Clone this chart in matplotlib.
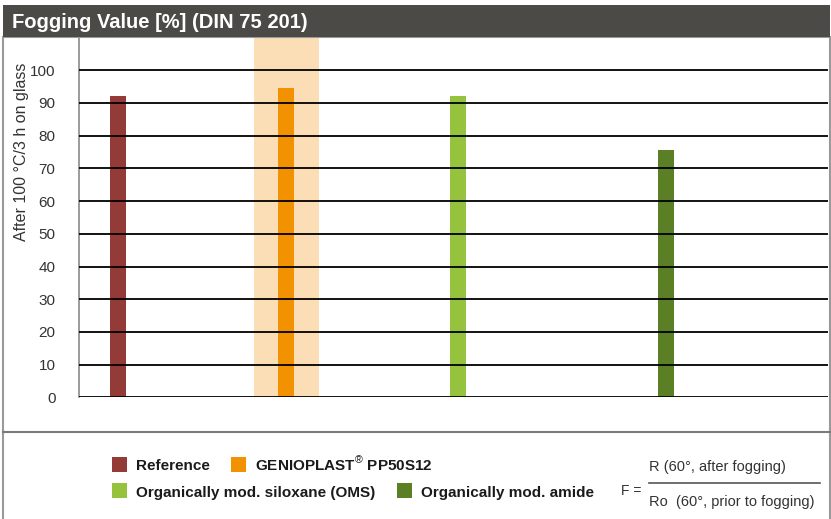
import numpy as np
import matplotlib
matplotlib.use('Agg')
import matplotlib.pyplot as plt
from matplotlib.patches import Rectangle
from matplotlib.lines import Line2D

plt.rcParams['font.family'] = ['Liberation Sans', 'DejaVu Sans']
plt.rcParams['mathtext.fontset'] = 'custom'
plt.rcParams['mathtext.rm'] = 'Liberation Sans'

# data
categories = ['Reference', 'GENIOPLAST$^{®}$ PP50S12',
              'Organically mod. siloxane (OMS)', 'Organically mod. amide']
values = [92, 94.7, 92, 75.6]
colors = ['#923b37', '#f39200', '#95c33d', '#5b7f25']
yticks = [0, 10, 20, 30, 40, 50, 60, 70, 80, 90, 100]

title = 'Fogging Value [%] (DIN 75 201)'
ylabel = 'After 100 °C/3 h on glass'

# layout (pixels)
W, H = 831, 519
xpos = [39, 207, 379, 587]     # bar centres inside the axes
barw = 16
band = (175, 240)              # highlight behind GENIOPLAST
px_per_unit = 3.27
y0 = 397.3                     # pixel row of the 0 line
ytop = 37

fig = plt.figure(figsize=(W/100, H/100), dpi=100)
fig.patch.set_facecolor('white')

ax = fig.add_axes([79/W, (H-y0)/H, 749/W, (y0-ytop)/H])
ax.set_xlim(0, 749)
ax.set_ylim(0, (y0-ytop)/px_per_unit)

ax.axvspan(band[0], band[1], color='#fbdeb5', lw=0, zorder=0)
ax.bar(xpos, values, width=barw, color=colors, zorder=1)

ax.set_yticks(yticks)
ax.set_xticks([])
ax.grid(axis='y', color='black', lw=1.3)
ax.set_axisbelow(False)
ax.tick_params(axis='y', length=0, pad=17, labelsize=11, labelcolor='#333333')
for s in ['top', 'right', 'bottom']:
    ax.spines[s].set_visible(False)
ax.spines['left'].set_color('#8a8a8a')
ax.spines['left'].set_linewidth(1.2)
ax.set_facecolor('none')

fig.text(22/W, 1-63/H, ylabel, rotation=90, ha='center', va='top',
         fontsize=11.5, color='#333333')

# frame and header
fig.add_artist(Rectangle((3/W, -0.01), 826.5/W, (H-ytop)/H+0.01, transform=fig.transFigure,
                         fill=False, edgecolor='#9a9a9a', lw=1.5))
fig.add_artist(Line2D([3/W, 830/W], [1-432/H, 1-432/H], transform=fig.transFigure,
                      color='#7a7a7a', lw=1.5))
fig.add_artist(Rectangle((3/W, 1-37/H), 827/W, 32/H, transform=fig.transFigure,
                         facecolor='#4b4a47', edgecolor='none'))
fig.text(12/W, 1-28/H, title, color='white', fontsize=14.5, fontweight='bold',
         ha='left', va='baseline')

# legend
leg_xy = [(112, 464), (231, 464), (112, 490.5), (397, 490.5)]
for (lx, ly), lab, c in zip(leg_xy, categories, colors):
    fig.add_artist(Rectangle((lx/W, 1-(ly+7.5)/H), 15/W, 15/H, transform=fig.transFigure,
                             facecolor=c, edgecolor='none'))
    fig.text((lx+24)/W, 1-(ly+6.5)/H, lab, fontsize=11, fontweight='bold', color='#1a1a1a',
             ha='left', va='baseline')

# formula
fig.text(621/W, 1-495/H, 'F =', fontsize=10, color='#333333', ha='left', va='baseline')
fig.add_artist(Line2D([649/W, 820/W], [1-482.7/H, 1-482.7/H], transform=fig.transFigure,
                      color='#555555', lw=1.2))
fig.text(649/W, 1-471/H, 'R (60°, after fogging)', fontsize=10.5, color='#333333',
         ha='left', va='baseline')
fig.text(649/W, 1-506/H, 'Ro  (60°, prior to fogging)', fontsize=10.5, color='#333333',
         ha='left', va='baseline')

plt.savefig('out.png', dpi=100)
